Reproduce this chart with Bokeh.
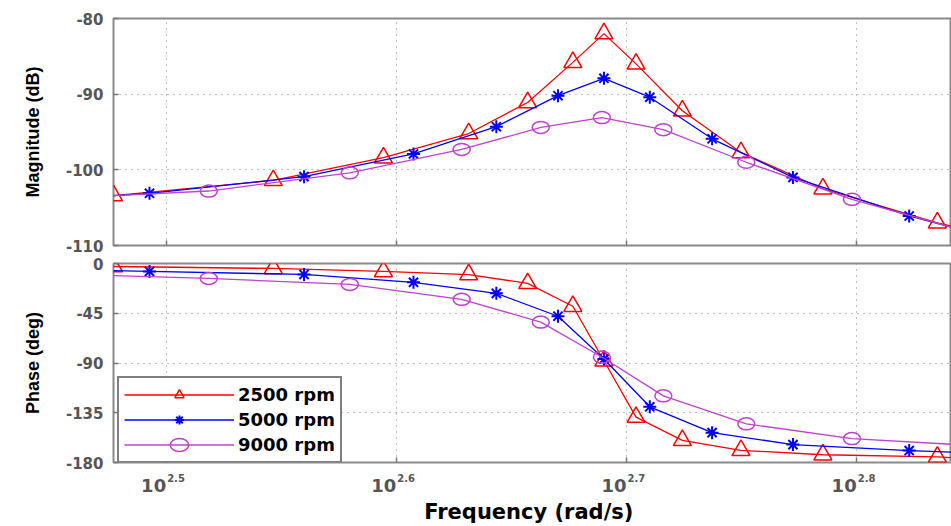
from bokeh.plotting import figure
from bokeh.layouts import column
from bokeh.models import (Range1d, FixedTicker, Legend, LegendItem, CustomJSTickFormatter)
from bokeh.core.properties import value
from bokeh.embed import file_html
from bokeh.resources import INLINE

series_names = ["2500 rpm", "5000 rpm", "9000 rpm"]

# 2500 rpm (red, triangles)
freq_2500 = [300, 352, 393, 428, 454, 475, 490, 506, 530, 562, 610, 684, 700]
mag_2500 = [-103.4, -101.4, -98.4, -95.2, -91.1, -85.8, -82.0, -86.0, -92.2, -97.7, -102.5, -107.0, -107.7]
phase_2500 = [-2.7, -4.5, -7.2, -10.0, -18.0, -38.7, -88.0, -139.0, -160.0, -169.0, -173.0, -175.0, -176.0]
mark_2500 = [1, 1, 1, 1, 1, 1, 1, 1, 1, 1, 1, 1, 0]

# 5000 rpm (blue, asterisks)
freq_5000 = [300, 311, 363, 405, 440, 468, 490, 513, 546, 592, 665, 700]
mag_5000 = [-103.4, -103.1, -100.9, -97.9, -94.3, -90.2, -87.9, -90.4, -95.9, -101.0, -106.1, -107.9]
phase_5000 = [-6.5, -7.2, -9.9, -17.0, -27.0, -47.7, -86.4, -129.6, -153.0, -163.8, -169.2, -171.0]
mark_5000 = [0, 1, 1, 1, 1, 1, 1, 1, 1, 1, 1, 0]

# 9000 rpm (magenta, circles)
freq_9000 = [300, 330, 380, 425, 460, 489, 520, 565, 628, 700]
mag_9000 = [-103.4, -102.8, -100.4, -97.3, -94.4, -93.1, -94.7, -99.0, -103.9, -107.9]
phase_9000 = [-11.0, -13.5, -18.9, -32.4, -53.0, -84.6, -119.7, -145.0, -158.4, -164.0]
mark_9000 = [0, 1, 1, 1, 1, 1, 1, 1, 1, 0]

mag_ticks = [-110, -100, -90, -80]
phase_ticks = [-180, -135, -90, -45, 0]
freq_tick_exponents = [2.5, 2.6, 2.7, 2.8]
freq_tick_base = ["10", "10", "10", "10"]
freq_tick_sup = ["2.5", "2.6", "2.7", "2.8"]
x_min, x_max = 300, 10 ** 2.8412

TICK_FONT = "DejaVu Sans"
TICK_COLOR = "#555555"

xr = Range1d(x_min, x_max)
tick_vals = [10 ** e for e in freq_tick_exponents]
xticks = FixedTicker(ticks=tick_vals)


def make_fig(height, y_range, yticks, ylabel, b_top, b_bottom):
    p = figure(width=951, height=height, x_axis_type="log", x_range=xr, y_range=y_range,
               output_backend="svg", toolbar_location=None,
               min_border_left=113, min_border_right=0,
               min_border_top=b_top, min_border_bottom=b_bottom)
    p.outline_line_color = "#8a8a8a"
    p.outline_line_width = 2
    p.background_fill_color = "white"
    p.border_fill_color = "white"
    p.xaxis.ticker = xticks
    p.xaxis.formatter = CustomJSTickFormatter(code="return '';")
    p.xaxis.major_label_text_font_size = "1px"
    p.xaxis.major_label_standoff = 0
    p.yaxis.ticker = FixedTicker(ticks=yticks)
    p.yaxis.formatter = CustomJSTickFormatter(code="return tick.toFixed(0);")
    for ax in p.axis:
        ax.axis_line_color = None
        ax.major_tick_in = 5
        ax.major_tick_out = 0
        ax.minor_tick_line_color = None
        ax.major_tick_line_color = "#777777"
        ax.major_tick_line_width = 1.5
    p.yaxis.major_label_text_font = TICK_FONT
    p.yaxis.major_label_text_font_size = "15px"
    p.yaxis.major_label_text_font_style = "bold"
    p.yaxis.major_label_text_color = TICK_COLOR
    p.yaxis.major_label_standoff = 10
    p.yaxis.axis_label = ylabel
    p.yaxis.axis_label_text_font = "Liberation Sans"
    p.yaxis.axis_label_text_font_size = "18px"
    p.yaxis.axis_label_text_font_style = "bold"
    p.yaxis.axis_label_text_color = "black"
    p.yaxis.axis_label_standoff = 20
    p.grid.grid_line_color = "#808080"
    p.grid.grid_line_dash = "1 5"
    p.grid.grid_line_width = 1
    p.xgrid.ticker = xticks
    return p


p1 = make_fig(254, Range1d(-110, -80), mag_ticks, "Magnitude (dB)", 18, 9)
p2 = make_fig(217, Range1d(-180, 0), phase_ticks, "Phase (deg)", 9, 9)

# strip under the phase plot: log tick labels (10 with superscript) and axis title
p3 = figure(width=951, height=55, x_axis_type="log", x_range=xr, y_range=Range1d(27, 0),
            output_backend="svg", toolbar_location=None,
            min_border_left=113, min_border_right=0, min_border_top=0, min_border_bottom=28)
p3.outline_line_color = None
p3.grid.visible = False
p3.yaxis.visible = False
p3.background_fill_color = "white"
p3.border_fill_color = "white"
xax = p3.xaxis[0]
xax.ticker = FixedTicker(ticks=[])
xax.axis_line_color = None
xax.major_tick_line_color = None
xax.minor_tick_line_color = None
xax.major_label_standoff = 0
xax.axis_label = "Frequency  (rad/s)"
xax.axis_label_text_font = "DejaVu Sans"
xax.axis_label_text_font_size = "21px"
xax.axis_label_text_font_style = "bold"
xax.axis_label_text_color = "black"
xax.axis_label_standoff = 3

p3.text(x=tick_vals, y=15, text=freq_tick_base, text_align="right", text_baseline="middle",
        text_font=value(TICK_FONT), text_font_size="18px", text_font_style="bold",
        text_color=TICK_COLOR)
p3.text(x=tick_vals, y=6.5, x_offset=1, text=freq_tick_sup, text_align="left",
        text_baseline="middle", text_font=value(TICK_FONT), text_font_size="10px",
        text_font_style="bold", text_color=TICK_COLOR)

series = [
    (freq_2500, mag_2500, phase_2500, mark_2500, "#ff0000", "triangle"),
    (freq_5000, mag_5000, phase_5000, mark_5000, "#0000ff", "asterisk"),
    (freq_9000, mag_9000, phase_9000, mark_9000, "#c040d0", "circle"),
]

items = []
for name, (fq, mg, ph, mk, col, kind) in zip(series_names, series):
    mf = [f for f, m in zip(fq, mk) if m]
    mm = [v for v, m in zip(mg, mk) if m]
    mp = [v for v, m in zip(ph, mk) if m]
    p1.line(fq, mg, line_color=col, line_width=1.3)
    l2 = p2.line(fq, ph, line_color=col, line_width=1.3)
    renders = []
    for p, ys in ((p1, mm), (p2, mp)):
        if kind == "triangle":
            r = p.scatter(mf, ys, marker="triangle", size=18, line_color=col,
                          fill_color=None, line_width=1.5)
        elif kind == "asterisk":
            r = p.scatter(mf, ys, marker="asterisk", size=13, line_color=col,
                          line_width=2)
        else:
            r = p.ellipse(mf, ys, width=17, height=12, width_units="screen",
                          height_units="screen", line_color=col, fill_color=None,
                          line_width=1.5)
        renders.append(r)
    items.append(LegendItem(label=name, renderers=[l2, renders[1]]))

legend = Legend(items=items, location=(4, -1), margin=0, padding=5, spacing=2,
                glyph_width=110, glyph_height=23, label_height=23, label_standoff=4,
                label_text_font="DejaVu Sans", label_text_font_size="18px",
                label_text_font_style="bold", label_text_color="black",
                border_line_color="black", border_line_width=2,
                background_fill_color="white", background_fill_alpha=1)
p2.add_layout(legend)

layout = column(p1, p2, p3)
open("out.html", "w").write(file_html(layout, INLINE))
